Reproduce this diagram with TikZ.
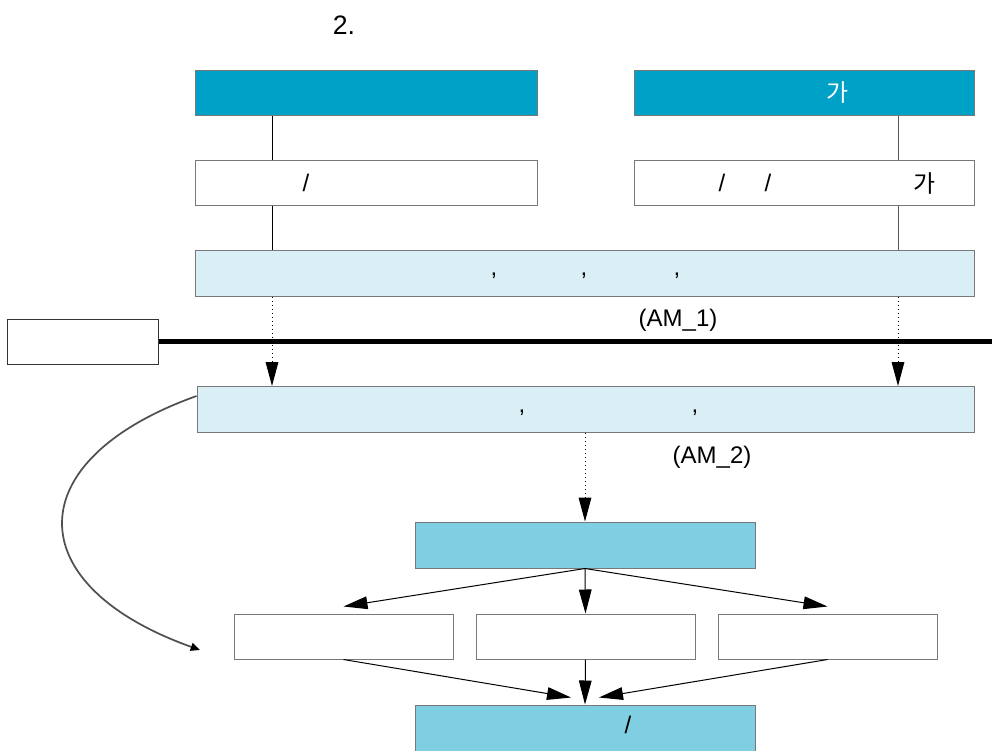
\documentclass[tikz,border=0pt]{standalone}
\usepackage{fontspec}
\setmainfont{Liberation Sans}
\newfontfamily\kr{Noto Sans CJK KR}
\usepackage{xcolor}
\definecolor{head-blue}{RGB}{0,161,199}
\definecolor{pale-blue}{RGB}{217,239,245}
\definecolor{mid-blue}{RGB}{128,206,226}
\definecolor{edge-gray}{RGB}{120,120,120}
\definecolor{loop-gray}{RGB}{80,80,80}
\usetikzlibrary{arrows.meta,positioning}
\newdimen\px \px=0.75pt

\begin{document}
\begin{tikzpicture}[
    x=0.75pt, y=-0.75pt,
    every node/.style={inner sep=0pt},
    box/.style={draw=edge-gray, line width=0.75pt, minimum height=45\px},
    headbox/.style={box, fill=head-blue},
    plainbox/.style={box, fill=white},
    palebox/.style={box, fill=pale-blue, minimum height=46\px},
    midbox/.style={box, fill=mid-blue, minimum height=46\px},
    label/.style={font=\fontsize{18}{21}\selectfont},
    link/.style={line width=0.75pt},
    dotlink/.style={line width=0.75pt, dash pattern=on 0.75pt off 2.25pt, -{Triangle[length=18pt,width=9.5pt]}},
    flow/.style={line width=0.75pt, -{Triangle[length=18pt,width=9.5pt]}}
]

\useasboundingbox (0,0) rectangle (992,750);

% Title
\node[label, font=\fontsize{20}{24}\selectfont] (title) at (344,25) {2.};

% Header boxes
\node[headbox, minimum width=342\px] (headA) at (366,92.5) {};
\node[headbox, minimum width=340\px] (headB) at (804,92.5) {};
\node[label, text=white] at (838,92) {\kr 가};

% Source boxes
\node[plainbox, minimum width=342\px] (srcA) at (366,182.5) {};
\node[plainbox, minimum width=340\px] (srcB) at (804,182.5) {};
\node[label] at (306,183) {/};
\node[label] at (722,183) {/};
\node[label] at (768,183) {/};
\node[label, font=\kr\fontsize{18}{21}\selectfont] at (925,183) {가};

% First stage
\node[palebox, minimum width=779\px] (stageA) at (584.5,273) {};
\node[label] at (494,276) {,};
\node[label] at (584,276) {,};
\node[label] at (677,276) {,};
\node[label] (amA) at (678,320) {(AM\_1)};

% Side box and rail
\node[plainbox, draw=black!80, minimum width=151\px] (side) at (82.5,341.5) {};
\coordinate (railend) at (992,341.5);
\draw[line width=3.5pt] (side.east) -- (side.east -| railend);

% Second stage
\node[palebox, minimum width=777\px] (stageB) at (585.5,409.5) {};
\node[label] at (522,413) {,};
\node[label] at (695,413) {,};
\node[label] (amB) at (712,457) {(AM\_2)};

% Processing boxes
\node[midbox, minimum width=340\px] (hub) at (585,545) {};
\node[plainbox, minimum width=219\px] (left) at (343.5,636.5) {};
\node[plainbox, minimum width=219\px] (centre) at (585.5,636.5) {};
\node[plainbox, minimum width=219\px] (right) at (827.5,636.5) {};
\node[midbox, minimum width=340\px, minimum height=50\px] (result) at (585,730) {};
\node[label] at (628,725) {/};

% Columns
\coordinate (colA) at (272,0);
\coordinate (colB) at (898,0);
\draw[link] (headA.south -| colA) -- (srcA.north -| colA);
\draw[link] (srcA.south -| colA) -- (stageA.north -| colA);
\draw[link, black!65] (headB.south -| colB) -- (srcB.north -| colB);
\draw[link, black!65] (srcB.south -| colB) -- (stageA.north -| colB);

% Dotted arrows
\draw[dotlink] (stageA.south -| colA) -- (stageB.north -| colA);
\draw[dotlink] (stageA.south -| colB) -- (stageB.north -| colB);
\draw[dotlink] (stageB.south -| hub.north) -- (hub.north);

% Fan out and in
\draw[flow] (hub.south) -- ([yshift=5.25pt]left.north);
\draw[flow] (hub.south) -- (centre.north);
\draw[flow] (hub.south) -- ([yshift=5.25pt]right.north);
\draw[flow] (left.south) -- ([xshift=-10.5pt,yshift=5.25pt]result.north);
\draw[flow] (centre.south) -- (result.north);
\draw[flow] (right.south) -- ([xshift=10.5pt,yshift=5.25pt]result.north);

% Loop back
\coordinate (loopin) at (200,650);
\draw[loop-gray, line width=1.3pt, -{Triangle[length=7pt,width=6pt,color=black]}]
    ([yshift=-7.5pt]stageB.north west) .. controls (18,460) and (18,585) .. (loopin);

\end{tikzpicture}
\end{document}
